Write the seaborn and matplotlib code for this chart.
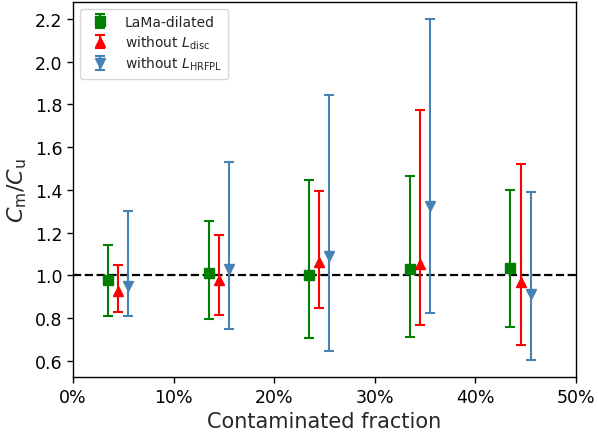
import matplotlib
matplotlib.use("Agg")
import matplotlib.pyplot as plt
import seaborn as sns
import numpy as np
from matplotlib.ticker import PercentFormatter

# Data
fractions = [0.05, 0.15, 0.25, 0.35, 0.45]
labels = ["LaMa-dilated", r"without $L_\mathrm{disc}$", r"without $L_\mathrm{HRFPL}$"]
offsets = [-0.015, -0.005, 0.005]

lama_mean = [0.976, 1.009, 1.000, 1.028, 1.036]
lama_low  = [0.809, 0.796, 0.707, 0.710, 0.757]
lama_high = [1.141, 1.256, 1.447, 1.467, 1.397]

disc_mean = [0.926, 0.976, 1.060, 1.052, 0.970]
disc_low  = [0.827, 0.812, 0.848, 0.766, 0.671]
disc_high = [1.049, 1.190, 1.394, 1.773, 1.519]

hrfpl_mean = [0.950, 1.031, 1.088, 1.323, 0.914]
hrfpl_low  = [0.809, 0.749, 0.647, 0.824, 0.601]
hrfpl_high = [1.303, 1.530, 1.844, 2.200, 1.389]

sns.set_theme(style="ticks", rc={"axes.grid": False})
plt.rcParams["font.family"] = ["DejaVu Sans"]
plt.rcParams["mathtext.fontset"] = "dejavusans"

fig, ax = plt.subplots(figsize=(5.98, 4.35), dpi=100)

series = [
    (lama_mean, lama_low, lama_high, "green", "s"),
    (disc_mean, disc_low, disc_high, "red", "^"),
    (hrfpl_mean, hrfpl_low, hrfpl_high, "steelblue", "v"),
]
for (mean, low, high, color, marker), label, off in zip(series, labels, offsets):
    x = np.array(fractions) + off
    m = np.array(mean)
    yerr = [m - np.array(low), np.array(high) - m]
    ax.errorbar(x, m, yerr=yerr, fmt=marker, color=color, ecolor=color,
                markersize=7, capsize=3.8, elinewidth=1.5, capthick=1.5,
                label=label, zorder=3)

ax.axhline(1.0, color="black", linestyle="--", linewidth=1.6, zorder=2)

ax.set_xlim(0, 0.5)
ax.set_xticks([0, 0.1, 0.2, 0.3, 0.4, 0.5])
ax.xaxis.set_major_formatter(PercentFormatter(1, decimals=0))
ax.set_yticks([0.6, 0.8, 1.0, 1.2, 1.4, 1.6, 1.8, 2.0, 2.2])
ax.tick_params(labelsize=12.5, direction="out", length=4, width=1, colors="black")
for s in ax.spines.values():
    s.set_visible(True)
    s.set_color("black")
    s.set_linewidth(1)

ax.set_xlabel("Contaminated fraction", fontsize=15)
ax.set_ylabel(r"$C_\mathrm{m}/C_\mathrm{u}$", fontsize=16)

ax.legend(loc="upper left", fontsize=10, frameon=True, labelspacing=0.3,
          handletextpad=0.8, borderpad=0.45)

fig.subplots_adjust(left=0.122, right=0.963, top=0.993, bottom=0.13)
fig.savefig("out.png", dpi=100)
